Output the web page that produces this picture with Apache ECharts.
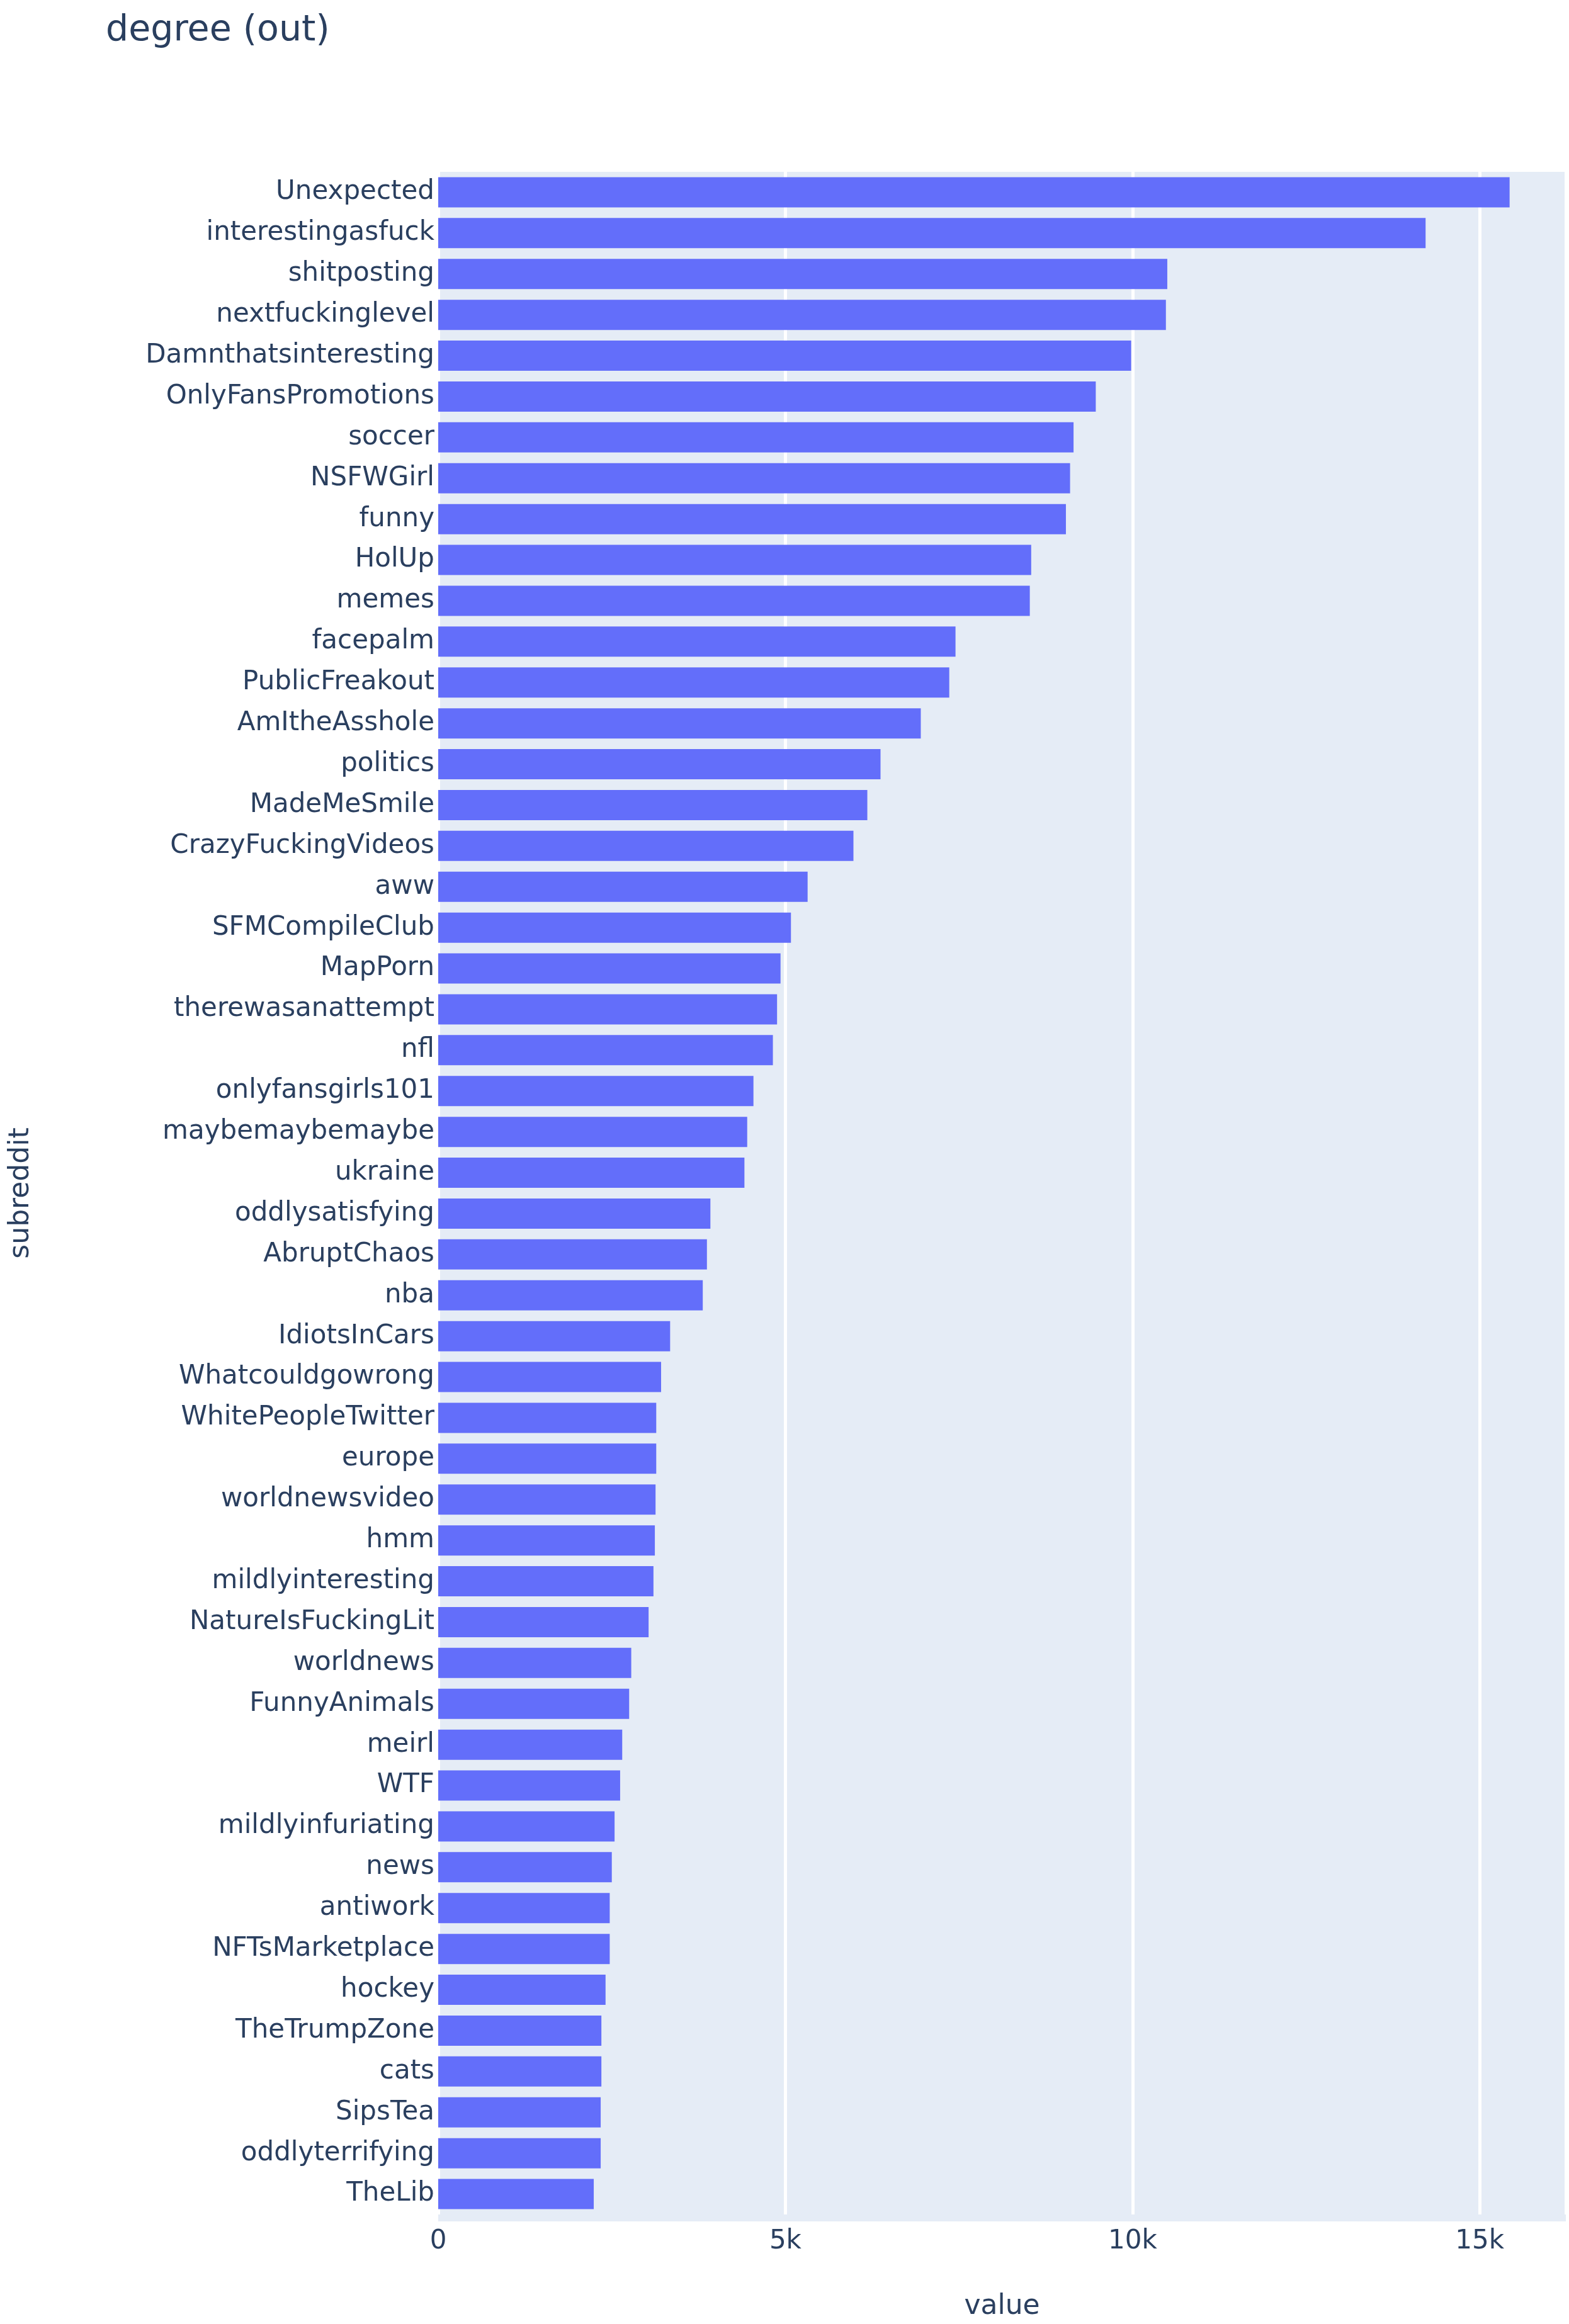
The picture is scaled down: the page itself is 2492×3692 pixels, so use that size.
<!DOCTYPE html>
<html>
<head>
<meta charset="utf-8">
<script src="https://cdn.jsdelivr.net/npm/echarts@6/dist/echarts.min.js"></script>
<style>html,body{margin:0;padding:0;background:#fff}#chart{width:2492px;height:3692px}</style>
</head>
<body>
<div id="chart"></div>
<script>
var subreddits = ['Unexpected', 'interestingasfuck', 'shitposting', 'nextfuckinglevel', 'Damnthatsinteresting',
	'OnlyFansPromotions', 'soccer', 'NSFWGirl', 'funny', 'HolUp', 'memes', 'facepalm', 'PublicFreakout',
	'AmItheAsshole', 'politics', 'MadeMeSmile', 'CrazyFuckingVideos', 'aww', 'SFMCompileClub', 'MapPorn',
	'therewasanattempt', 'nfl', 'onlyfansgirls101', 'maybemaybemaybe', 'ukraine', 'oddlysatisfying',
	'AbruptChaos', 'nba', 'IdiotsInCars', 'Whatcouldgowrong', 'WhitePeopleTwitter', 'europe',
	'worldnewsvideo', 'hmm', 'mildlyinteresting', 'NatureIsFuckingLit', 'worldnews', 'FunnyAnimals',
	'meirl', 'WTF', 'mildlyinfuriating', 'news', 'antiwork', 'NFTsMarketplace', 'hockey', 'TheTrumpZone',
	'cats', 'SipsTea', 'oddlyterrifying', 'TheLib'];
var values = [15430, 14220, 10500, 10480, 9980, 9470, 9150, 9100, 9040, 8540, 8520, 7450, 7360,
	6950, 6370, 6180, 5980, 5320, 5080, 4930, 4880, 4820, 4540, 4450, 4410, 3920,
	3870, 3810, 3340, 3210, 3140, 3140, 3130, 3120, 3100, 3030, 2780, 2750,
	2650, 2620, 2540, 2500, 2470, 2470, 2410, 2350, 2350, 2340, 2340, 2240];
var xTicks = [0, 5000, 10000, 15000];

var font = 'DejaVu Sans';
var textColor = '#2a3f5f';
var myChart = echarts.init(document.getElementById('chart'));
var option = {
	backgroundColor : '#fff',
	title : {
		text : 'degree (out)',
		left : 163,
		top : 16,
		textStyle : { fontFamily : font, fontSize : 57, fontWeight : 'normal', color : textColor }
	},
	grid : { left : 696, right : 5, top : 273, bottom : 163 },
	xAxis : {
		type : 'value',
		min : 0,
		max : 16240,
		interval : 5000,
		name : 'value',
		nameLocation : 'middle',
		nameGap : 125,
		nameTextStyle : { fontFamily : font, fontSize : 44, color : textColor },
		axisLine : { show : false },
		axisTick : { show : false },
		axisLabel : {
			fontFamily : font, fontSize : 42, color : textColor, margin : 22,
			showMaxLabel : false,
			formatter : function (v) { return v === 0 ? '0' : (v / 1000) + 'k'; }
		},
		splitLine : { lineStyle : { color : '#fff', width : 5 } }
	},
	yAxis : {
		type : 'category',
		data : subreddits,
		inverse : true,
		name : 'subreddit',
		nameLocation : 'middle',
		nameGap : 640,
		nameTextStyle : { fontFamily : font, fontSize : 44, color : textColor },
		axisLine : { show : false },
		axisTick : { show : false },
		axisLabel : { fontFamily : font, fontSize : 42, color : textColor, margin : 6, interval : 0 },
		splitArea : { show : false }
	},
	series : [ {
		type : 'bar',
		data : values,
		barCategoryGap : '26%',
		itemStyle : { color : '#636efa' }
	} ],
	graphic : [ {
		type : 'rect',
		z : -1,
		shape : { x : 696, y : 273, width : 2492 - 696 - 5, height : 3692 - 273 - 163 },
		style : { fill : '#e5ecf6' }
	} ]
};
myChart.setOption(option);
</script>
</body>
</html>
